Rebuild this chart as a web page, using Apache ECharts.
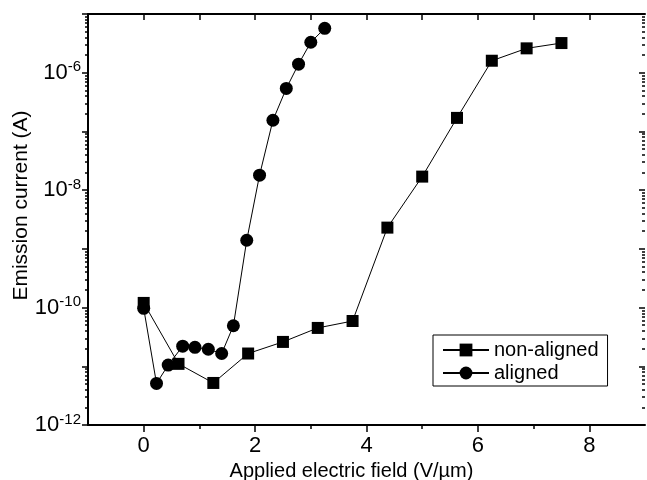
<!DOCTYPE html>
<html><head><meta charset="utf-8">
<script src="https://cdn.jsdelivr.net/npm/echarts@6/dist/echarts.min.js"></script>
<style>html,body{margin:0;padding:0;background:#fff}#c{width:647px;height:480px}</style>
</head><body><div id="c"></div>
<script>
const nonAlignedX = [0, 0.625, 1.25, 1.875, 2.5, 3.125, 3.75, 4.375, 5, 5.625, 6.25, 6.875, 7.5];
const nonAlignedY = [1.2e-10, 1.1e-11, 5.2e-12, 1.65e-11, 2.6e-11, 4.5e-11, 5.9e-11, 2.3e-9, 1.7e-8, 1.7e-7, 1.6e-6, 2.6e-6, 3.2e-6];
const alignedX = [0, 0.23, 0.44, 0.70, 0.92, 1.16, 1.40, 1.61, 1.85, 2.08, 2.32, 2.56, 2.78, 3.0, 3.25];
const alignedY = [9.7e-11, 5.1e-12, 1.05e-11, 2.2e-11, 2.1e-11, 1.95e-11, 1.65e-11, 4.9e-11, 1.4e-9, 1.8e-8, 1.55e-7, 5.4e-7, 1.4e-6, 3.3e-6, 5.7e-6];
const xTickLabels = [0, 2, 4, 6, 8];
const xMinorTicks = [1, 3, 5, 7];
const xTopTicks = [0, 1, 2, 3, 4, 5, 6, 7, 8];
const yTickExponents = [-12, -10, -8, -6];
const yDecadeExponents = [-12, -11, -10, -9, -8, -7, -6, -5];

const FONT = 'Liberation Sans';
const yMajor = yDecadeExponents.map(e => Math.pow(10, e));
const yMinor = [];
yDecadeExponents.slice(0, -1).forEach(e => { for (let m = 2; m <= 9; m++) yMinor.push(m * Math.pow(10, e)); });
const yLabelVals = yTickExponents.map(e => Math.pow(10, e));

const chart = echarts.init(document.getElementById('c'), null, {renderer: 'canvas'});
const baseY = {type: 'log', logBase: 10, min: 1e-12, max: 1e-5, splitLine: {show: false}};
const baseX = {type: 'value', min: -1, max: 9, splitLine: {show: false}};
chart.setOption({
  animation: false,
  backgroundColor: '#fff',
  grid: {left: 88, right: 2, top: 14, bottom: 55, outerBoundsMode: 'none', containLabel: false},
  legend: {
    data: ['non-aligned', 'aligned'], orient: 'vertical', left: 433, top: 335,
    borderColor: '#000', borderWidth: 1, borderRadius: 0,
    padding: [5, 9, 3, 9], itemGap: 3, itemWidth: 46, itemHeight: 16,
    textStyle: {fontFamily: FONT, fontSize: 20, color: '#000'}
  },
  xAxis: [
    Object.assign({}, baseX, {
      position: 'bottom',
      name: 'Applied electric field (V/\u00b5m)', nameLocation: 'middle', nameGap: 32,
      nameTextStyle: {fontFamily: FONT, fontSize: 20, color: '#000', padding: [0, 30, 0, 0]},
      axisLine: {show: true, onZero: false, lineStyle: {color: '#000', width: 2}},
      axisTick: {show: true, inside: false, length: 7, customValues: xTickLabels, lineStyle: {color: '#000', width: 1.5}},
      axisLabel: {show: true, customValues: xTickLabels, margin: 10, fontFamily: FONT, fontSize: 22, color: '#000'}
    }),
    Object.assign({}, baseX, {
      position: 'bottom',
      axisLine: {show: false, onZero: false},
      axisTick: {show: true, inside: false, length: 4, customValues: xMinorTicks, lineStyle: {color: '#000', width: 1.5}},
      axisLabel: {show: false}
    }),
    Object.assign({}, baseX, {
      position: 'top',
      axisLine: {show: true, onZero: false, lineStyle: {color: '#000', width: 2}},
      axisTick: {show: true, inside: true, length: 6, customValues: xTopTicks, lineStyle: {color: '#000', width: 1.5}},
      axisLabel: {show: false}
    })
  ],
  yAxis: [
    Object.assign({}, baseY, {
      position: 'left',
      name: 'Emission current (A)', nameLocation: 'middle', nameGap: 56, nameMoveOverlap: false,
      nameTextStyle: {fontFamily: FONT, fontSize: 21, color: '#000', padding: [0, 0, 0, 28]},
      axisLine: {show: true, onZero: false, lineStyle: {color: '#000', width: 2}},
      axisTick: {show: true, inside: false, length: 6, customValues: yMajor, lineStyle: {color: '#000', width: 1.5}},
      axisLabel: {
        show: true, customValues: yLabelVals, margin: 7,
        formatter: v => '{b|10}{s|' + Math.round(Math.log10(v)) + '}',
        rich: {
          b: {fontFamily: FONT, fontSize: 22, color: '#000', lineHeight: 26, verticalAlign: 'middle'},
          s: {fontFamily: FONT, fontSize: 15, color: '#000', lineHeight: 15, verticalAlign: 'top'}
        }
      }
    }),
    Object.assign({}, baseY, {
      position: 'left',
      axisLine: {show: false, onZero: false},
      axisTick: {show: true, inside: false, length: 3, customValues: yMinor, lineStyle: {color: '#000', width: 1.5}},
      axisLabel: {show: false}
    }),
    Object.assign({}, baseY, {
      position: 'right',
      axisLine: {show: false, onZero: false},
      axisTick: {show: true, inside: true, length: 6, customValues: yMajor, lineStyle: {color: '#000', width: 1.5}},
      axisLabel: {show: false}
    }),
    Object.assign({}, baseY, {
      position: 'right',
      axisLine: {show: false, onZero: false},
      axisTick: {show: true, inside: true, length: 3, customValues: yMinor, lineStyle: {color: '#000', width: 1.5}},
      axisLabel: {show: false}
    })
  ],
  series: [
    {
      name: 'non-aligned', type: 'line', xAxisIndex: 0, yAxisIndex: 0,
      data: nonAlignedX.map((x, i) => [x, nonAlignedY[i]]),
      symbol: 'rect', symbolSize: 12,
      itemStyle: {color: '#000'}, lineStyle: {color: '#000', width: 1}
    },
    {
      name: 'aligned', type: 'line', xAxisIndex: 0, yAxisIndex: 0,
      data: alignedX.map((x, i) => [x, alignedY[i]]),
      symbol: 'circle', symbolSize: 13,
      itemStyle: {color: '#000'}, lineStyle: {color: '#000', width: 1}
    }
  ]
});
</script>
</body></html>
